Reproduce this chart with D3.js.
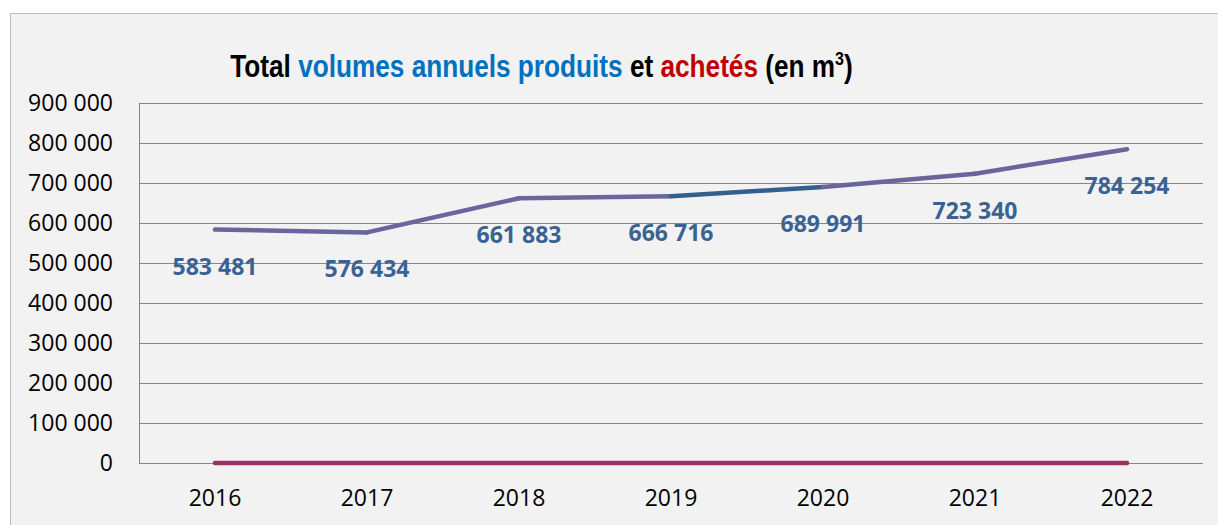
<!DOCTYPE html>
<html>
<head>
<meta charset="utf-8">
<script src="https://cdn.jsdelivr.net/npm/d3@7"></script>
<style>
  body { margin: 0; background: #fff; }
</style>
</head>
<body>
<div id="wrapper"></div>
<script>
const years = ['2016', '2017', '2018', '2019', '2020', '2021', '2022']
const produits = [583481, 576434, 661883, 666716, 689991, 723340, 784254]
const achetes = [0, 0, 0, 0, 0, 0, 0]
const yTicks = [0, 100000, 200000, 300000, 400000, 500000, 600000, 700000, 800000, 900000]

const W = 1218, H = 525
const margin = { top: 103, right: 15, bottom: 62, left: 139 }

const svg = d3.select('#wrapper').append('svg')
    .attr('width', W)
    .attr('height', H)

// chart frame
svg.append('rect')
    .attr('x', 10.5).attr('y', 13.5)
    .attr('width', W + 20).attr('height', H + 20)
    .attr('fill', '#f2f2f2')
    .attr('stroke', '#bfbfbf')

const x = d3.scaleBand()
    .domain(years)
    .range([margin.left, W - margin.right])

const y = d3.scaleLinear()
    .domain([0, 900000])
    .range([H - margin.bottom, margin.top])

const fmt = v => d3.format(',')(v).replace(/,/g, ' ')

// grid
svg.append('g')
    .selectAll('line')
    .data(yTicks)
    .join('line')
    .attr('x1', margin.left).attr('x2', W - margin.right)
    .attr('y1', d => Math.round(y(d)) + 0.5).attr('y2', d => Math.round(y(d)) + 0.5)
    .attr('stroke', '#868686')
    .attr('stroke-width', 1)

svg.append('line')
    .attr('x1', margin.left + 0.5).attr('x2', margin.left + 0.5)
    .attr('y1', y(900000)).attr('y2', y(0))
    .attr('stroke', '#868686')

// y axis labels
const yAxis = svg.append('g')
    .attr('transform', `translate(${margin.left},0)`)
    .call(d3.axisLeft(y).tickValues(yTicks).tickFormat(fmt).tickSize(0).tickPadding(26))
yAxis.select('.domain').remove()
yAxis.selectAll('text')
    .attr('font-family', 'Open Sans, sans-serif')
    .attr('font-size', '23px')
    .attr('fill', '#000')

// x axis labels
const xAxis = svg.append('g')
    .attr('transform', `translate(0,${y(0)})`)
    .call(d3.axisBottom(x).tickSize(0).tickPadding(27))
xAxis.select('.domain').remove()
xAxis.selectAll('text')
    .attr('font-family', 'Open Sans, sans-serif')
    .attr('font-size', '23px')
    .attr('fill', '#000')

const cx = d => x(d) + x.bandwidth() / 2

// lines
const pts = years.map((d, i) => [cx(d), y(produits[i])])
for (let i = 0; i < pts.length - 1; i++) {
    svg.append('line')
        .attr('x1', pts[i][0]).attr('y1', pts[i][1])
        .attr('x2', pts[i + 1][0]).attr('y2', pts[i + 1][1])
        .attr('stroke', i === 3 ? '#33608f' : '#6a659c')
        .attr('stroke-width', 4.5)
        .attr('stroke-linecap', 'round')
}

svg.append('path')
    .datum(achetes)
    .attr('fill', 'none')
    .attr('stroke', '#993366')
    .attr('stroke-width', 4.5)
    .attr('stroke-linecap', 'round')
    .attr('d', d3.line().x((d, i) => cx(years[i])).y(d => y(d)))

// data labels
svg.append('g')
    .selectAll('text')
    .data(produits)
    .join('text')
    .attr('x', (d, i) => cx(years[i]))
    .attr('y', d => y(d) + 45)
    .attr('text-anchor', 'middle')
    .attr('font-family', 'Open Sans, sans-serif')
    .attr('font-weight', 'bold')
    .attr('font-size', '23px')
    .attr('fill', '#3a6294')
    .text(fmt)

// title (narrow bold look)
const title = svg.append('text')
    .attr('transform', 'translate(541.5,77) scale(0.845,1)')
    .attr('text-anchor', 'middle')
    .attr('font-family', 'Liberation Sans, Arial, sans-serif')
    .attr('font-weight', 'bold')
    .attr('font-size', '31px')
title.append('tspan').attr('fill', '#000').text('Total ')
title.append('tspan').attr('fill', '#0070c0').text('volumes annuels produits ')
title.append('tspan').attr('fill', '#000').text('et ')
title.append('tspan').attr('fill', '#c00000').text('achetés ')
title.append('tspan').attr('fill', '#000').text('(en m')
title.append('tspan').attr('fill', '#000').attr('font-size', '19px').attr('dy', -12).text('3')
title.append('tspan').attr('fill', '#000').attr('dy', 12).text(')')
</script>
</body>
</html>
